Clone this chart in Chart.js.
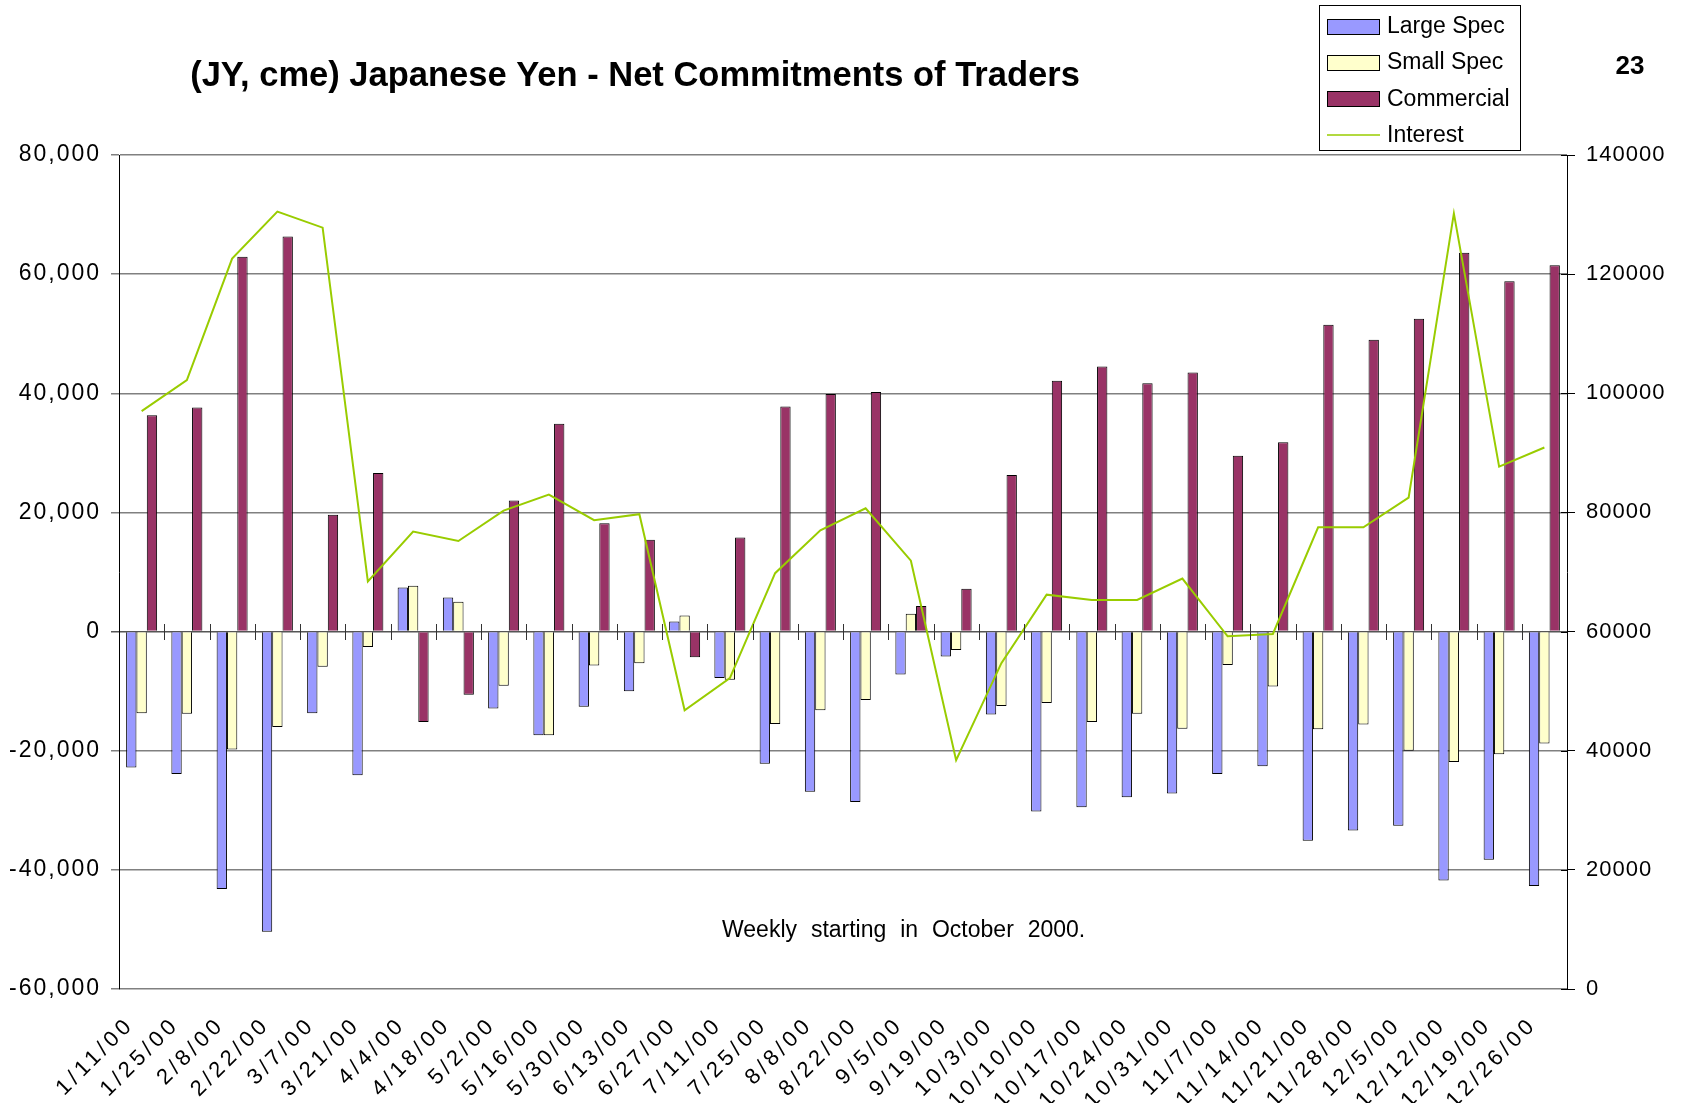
<!DOCTYPE html>
<html><head><meta charset="utf-8">
<script src="https://cdn.jsdelivr.net/npm/chart.js@4.4.1/dist/chart.umd.min.js"></script>
<style>html,body{margin:0;padding:0;background:#fff}#wrap{width:1683px;height:1103px;position:relative}</style>
</head><body><div id="wrap"><canvas id="c" width="1683" height="1103"></canvas></div>
<script>
const categories=['1/11/00','1/25/00','2/8/00','2/22/00','3/7/00','3/21/00','4/4/00','4/18/00','5/2/00','5/16/00','5/30/00','6/13/00','6/27/00','7/11/00','7/25/00','8/8/00','8/22/00','9/5/00','9/19/00','10/3/00','10/10/00','10/17/00','10/24/00','10/31/00','11/7/00','11/14/00','11/21/00','11/28/00','12/5/00','12/12/00','12/19/00','12/26/00'];
const largeSpec=[-22800,-23900,-43200,-50400,-13700,-24100,7400,5700,-12900,-17400,-12600,-10000,1700,-7800,-22200,-26900,-28600,-7200,-4200,-13900,-30200,-29500,-27800,-27200,-23900,-22600,-35100,-33400,-32600,-41800,-38300,-42700];
const smallSpec=[-13700,-13800,-19800,-16000,-5900,-2600,7700,5000,-9100,-17400,-5700,-5300,2700,-8100,-15500,-13200,-11500,3000,-3100,-12500,-12000,-15200,-13800,-16300,-5600,-9200,-16400,-15600,-20000,-21900,-20600,-18800];
const commercial=[36300,37600,62900,66300,19600,26600,-15200,-10600,22000,34900,18200,15400,-4300,15800,37800,39900,40200,4300,7200,26300,42100,44500,41700,43500,29500,31800,51500,49000,52500,63600,58800,61500];
const interest=[97000,102200,122600,130500,127800,68400,76800,75200,80300,83000,78700,79700,46800,52200,69800,77000,80700,71900,38400,54700,66200,65300,65300,68900,59200,59600,77500,77500,82500,130200,87700,90900];
const leftTicks={min:-60000,max:80000,step:20000};
const rightTicks={min:0,max:140000,step:20000};
const titleText='(JY, cme) Japanese Yen - Net Commitments of Traders';
const pageNumber='23';
const noteText='Weekly starting in October 2000.';

const FONT='"Liberation Sans", Arial, Helvetica, sans-serif';
const COLORS={large:'#9999FF',small:'#FFFFCC',comm:'#993366',interest:'#99CC00'};

function spaced(scale,px){
  if(scale._spacedWrapped) return;
  const orig=scale.drawLabels.bind(scale);
  scale.drawLabels=function(a){const c=scale.ctx;const prev=c.letterSpacing;c.letterSpacing=px;orig(a);c.letterSpacing=prev;};
  scale._spacedWrapped=true;
}

const overlay={
  id:'overlay',
  afterLayout(chart){
    spaced(chart.scales.x,'4px');
    spaced(chart.scales.y,'2px');
    spaced(chart.scales.y2,'1px');
  },
  afterDraw(chart){
    const ctx=chart.ctx, xs=chart.scales.x, ys=chart.scales.y, y2=chart.scales.y2, ca=chart.chartArea;
    ctx.save();
    ctx.letterSpacing='0px';
    const catW=xs.getPixelForValue(1)-xs.getPixelForValue(0);
    const y0=Math.round(ys.getPixelForValue(0));
    ctx.strokeStyle='#333'; ctx.lineWidth=1;
    ctx.beginPath();
    for(let i=1;i<categories.length;i++){
      const bx=Math.round(xs.getPixelForValue(i)-catW/2)+0.5;
      ctx.moveTo(bx,y0-8); ctx.lineTo(bx,y0+8);
    }
    ctx.stroke();
    ctx.strokeStyle='#000';
    ctx.beginPath();
    for(let v=rightTicks.min;v<=rightTicks.max;v+=rightTicks.step){
      const py=Math.round(y2.getPixelForValue(v))+0.5;
      ctx.moveTo(ca.right-6,py); ctx.lineTo(ca.right,py);
    }
    ctx.stroke();
    ctx.fillStyle='#000';
    ctx.textBaseline='alphabetic';
    ctx.textAlign='center';
    ctx.font='bold 34.5px '+FONT;
    ctx.fillText(titleText,635,86);
    ctx.font='bold 26px '+FONT;
    ctx.fillText(pageNumber,1630,74);
    ctx.font='23px '+FONT;
    ctx.textAlign='left';
    ctx.wordSpacing='7.5px';
    ctx.fillText(noteText,722,937);
    ctx.wordSpacing='0px';
    ctx.fillStyle='#fff'; ctx.strokeStyle='#000'; ctx.lineWidth=1;
    ctx.fillRect(1319.5,5.5,201,145); ctx.strokeRect(1319.5,5.5,201,145);
    const items=[
      {label:chart.data.datasets[0].label,color:COLORS.large,type:'box'},
      {label:chart.data.datasets[1].label,color:COLORS.small,type:'box'},
      {label:chart.data.datasets[2].label,color:COLORS.comm,type:'box'},
      {label:chart.data.datasets[3].label,color:COLORS.interest,type:'line'}];
    const ys_=[26,62,98.5,135];
    ctx.font='23px '+FONT; ctx.textBaseline='middle'; ctx.textAlign='left';
    items.forEach((it,i)=>{
      const cy=ys_[i];
      if(it.type==='box'){
        ctx.fillStyle=it.color; ctx.fillRect(1327.5,Math.round(cy-7.5)+0.5,52,15);
        ctx.strokeStyle='#000'; ctx.lineWidth=1; ctx.strokeRect(1327.5,Math.round(cy-7.5)+0.5,52,15);
      } else {
        ctx.strokeStyle=it.color; ctx.lineWidth=1.5; ctx.beginPath(); ctx.moveTo(1327,cy); ctx.lineTo(1380,cy); ctx.stroke();
      }
      ctx.fillStyle='#000'; ctx.fillText(it.label,1387,cy+1);
    });
    ctx.restore();
  }
};

const barCommon={borderColor:'#000',borderWidth:1,categoryPercentage:0.685,barPercentage:1.0,order:1,yAxisID:'y'};
new Chart(document.getElementById('c'),{
  type:'bar',
  data:{labels:categories,datasets:[
    Object.assign({label:'Large Spec',data:largeSpec,backgroundColor:COLORS.large},barCommon),
    Object.assign({label:'Small Spec',data:smallSpec,backgroundColor:COLORS.small},barCommon),
    Object.assign({label:'Commercial',data:commercial,backgroundColor:COLORS.comm},barCommon),
    {type:'line',label:'Interest',data:interest,yAxisID:'y2',borderColor:COLORS.interest,backgroundColor:COLORS.interest,borderWidth:2,pointRadius:0,tension:0,fill:false,order:0}
  ]},
  options:{
    responsive:false,animation:false,devicePixelRatio:1,
    layout:{padding:{top:155,left:0,right:0,bottom:0}},
    plugins:{legend:{display:false},title:{display:false},tooltip:{enabled:false}},
    scales:{
      x:{grid:{display:false},border:{display:false},
         ticks:{autoSkip:false,minRotation:45,maxRotation:45,padding:15,labelOffset:-11,color:'#000',font:{family:FONT,size:22}},
         afterFit(s){s.height=114;}},
      y:{position:'left',min:leftTicks.min,max:leftTicks.max,
         ticks:{stepSize:leftTicks.step,color:'#000',padding:10,font:{family:FONT,size:23}},
         grid:{color:c=>c.tick&&c.tick.value===0?'#555':'#808080',lineWidth:1.5,tickLength:8},
         border:{display:true,color:'#000',width:1},
         afterFit(s){s.width=119;}},
      y2:{position:'right',min:rightTicks.min,max:rightTicks.max,
         ticks:{stepSize:rightTicks.step,color:'#000',padding:11,font:{family:FONT,size:22},callback:v=>String(v)},
         grid:{drawOnChartArea:false,color:'#000',lineWidth:1,tickLength:8},
         border:{display:true,color:'#000',width:1},
         afterFit(s){s.width=116;}}
    }
  },
  plugins:[overlay]
});
</script></body></html>
